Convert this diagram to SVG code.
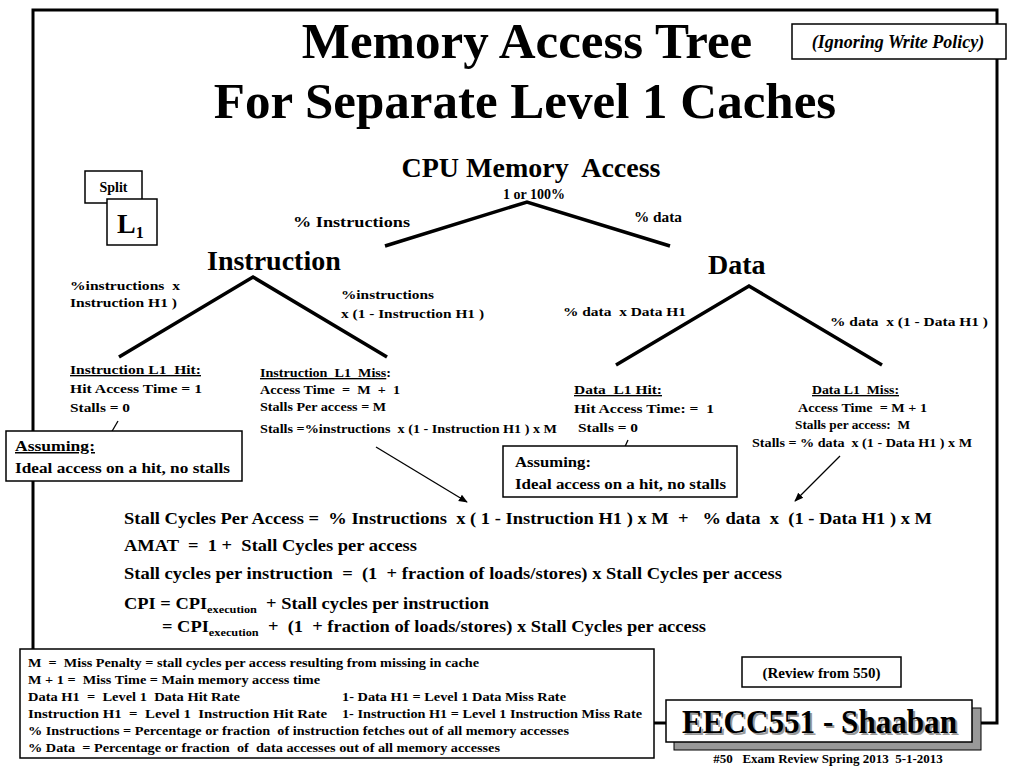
<svg xmlns="http://www.w3.org/2000/svg" width="1024" height="768" viewBox="0 0 1024 768">
<style>
  text { font-family: "Liberation Serif", "Times New Roman", serif; font-weight: bold; fill: #000; white-space: pre; }
  .box { fill: #fff; stroke: #000; stroke-width: 1.5; }
  .branch { stroke: #000; stroke-width: 3.5; fill: none; stroke-linecap: butt; }
  .thin { stroke: #000; stroke-width: 1.3; fill: none; }
  .frame { stroke: #000; stroke-width: 3; fill: none; }
  .u { text-decoration: underline; }
  .s13 { font-size: 13.5px; }
  .s15 { font-size: 15px; }
</style>
<defs>
  <marker id="arr" viewBox="0 0 10 10" refX="9" refY="5" markerWidth="9" markerHeight="9" orient="auto" markerUnits="userSpaceOnUse">
    <path d="M0,1 L10,5 L0,9 z" fill="#000"/>
  </marker>
</defs>
<rect width="1024" height="768" fill="#fff"/>

<g id="frame">
  <path class="frame" d="M33,650 V10 H997 V723 H981"/>
  <path class="frame" d="M653,723 H667"/>
</g>

<g id="title">
  <text x="527" y="58" font-size="51" text-anchor="middle">Memory Access Tree</text>
  <text x="525" y="118" font-size="51" text-anchor="middle">For Separate Level 1 Caches</text>
</g>

<g id="ignoring-write-policy">
  <rect class="box" x="792" y="24" width="214" height="35"/>
  <text x="898" y="48" font-size="18" font-style="italic" text-anchor="middle">(Ignoring Write Policy)</text>
</g>

<g id="split-l1">
  <rect class="box" x="85" y="171" width="57" height="32"/>
  <text x="113.5" y="192" font-size="14" text-anchor="middle">Split</text>
  <rect class="box" x="107" y="199" width="50" height="46"/>
  <text x="117" y="233" font-size="28">L<tspan font-size="16" dy="5">1</tspan></text>
</g>

<g id="connectors">
  <path class="branch" d="M385,246 L527,202 L670,246"/>
  <path class="branch" d="M119,357 L253,277 L387,357"/>
  <path class="branch" d="M616,365 L749,286 L882,365"/>
  <path class="thin" d="M118,421 L111,433"/>
  <path class="thin" d="M628,440 L623,451"/>
  <path class="thin" d="M376,447 L467,502" marker-end="url(#arr)"/>
  <path class="thin" d="M840,456 L795,501" marker-end="url(#arr)"/>
</g>

<g id="cpu-memory-access">
  <text x="531" y="177" font-size="28" text-anchor="middle">CPU Memory  Access</text>
  <text x="534" y="199" font-size="14" text-anchor="middle">1 or 100%</text>
  <text x="293" y="227" class="s15" textLength="117" lengthAdjust="spacingAndGlyphs">% Instructions</text>
  <text x="634" y="222" font-size="14" textLength="48" lengthAdjust="spacingAndGlyphs">% data</text>
</g>

<g id="instruction">
  <text x="207" y="270" font-size="28">Instruction</text>
  <text x="70" y="290" class="s13" textLength="110" lengthAdjust="spacingAndGlyphs">%instructions  x</text>
  <text x="70" y="307" class="s13" textLength="107" lengthAdjust="spacingAndGlyphs">Instruction H1 )</text>
  <text x="341" y="299" class="s13" textLength="93" lengthAdjust="spacingAndGlyphs">%instructions</text>
  <text x="341" y="318" class="s13" textLength="143" lengthAdjust="spacingAndGlyphs">x (1 - Instruction H1 )</text>
</g>

<g id="instruction-l1-hit">
  <text x="70" y="374" class="s13 u" textLength="131" lengthAdjust="spacingAndGlyphs">Instruction L1  Hit:</text>
  <text x="70" y="393" class="s13" textLength="132" lengthAdjust="spacingAndGlyphs">Hit Access Time = 1</text>
  <text x="70" y="412" class="s13" textLength="60" lengthAdjust="spacingAndGlyphs">Stalls = 0</text>
</g>

<g id="assuming-1">
  <rect class="box" x="6" y="431" width="236" height="50"/>
  <text x="15" y="451" class="s15 u" textLength="80" lengthAdjust="spacingAndGlyphs">Assuming:</text>
  <text x="15" y="473" class="s15" textLength="215" lengthAdjust="spacingAndGlyphs">Ideal access on a hit, no stalls</text>
</g>

<g id="instruction-l1-miss">
  <text x="260" y="377" class="s13" textLength="131" lengthAdjust="spacingAndGlyphs"><tspan class="u">Instruction  L1  Miss</tspan>:</text>
  <text x="260" y="394" class="s13" textLength="140" lengthAdjust="spacingAndGlyphs">Access Time  =  M  +  1</text>
  <text x="260" y="411" class="s13" textLength="126" lengthAdjust="spacingAndGlyphs">Stalls Per access = M</text>
  <text x="260" y="433" class="s13" textLength="297" lengthAdjust="spacingAndGlyphs">Stalls =%instructions  x (1 - Instruction H1 ) x M</text>
</g>

<g id="data">
  <text x="708" y="274" font-size="28">Data</text>
  <text x="563" y="316" class="s13" textLength="123" lengthAdjust="spacingAndGlyphs">% data  x Data H1</text>
  <text x="830" y="326" class="s13" textLength="158" lengthAdjust="spacingAndGlyphs">% data  x (1 - Data H1 )</text>
</g>

<g id="data-l1-hit">
  <text x="574" y="394" class="s13 u" textLength="88" lengthAdjust="spacingAndGlyphs">Data  L1 Hit:</text>
  <text x="574" y="413" class="s13" textLength="140" lengthAdjust="spacingAndGlyphs">Hit Access Time: =  1</text>
  <text x="578" y="432" class="s13" textLength="60" lengthAdjust="spacingAndGlyphs">Stalls = 0</text>
</g>

<g id="assuming-2">
  <rect class="box" x="503" y="446" width="234" height="51"/>
  <text x="515" y="467" class="s15" textLength="76" lengthAdjust="spacingAndGlyphs">Assuming:</text>
  <text x="515" y="489" class="s15" textLength="211" lengthAdjust="spacingAndGlyphs">Ideal access on a hit, no stalls</text>
</g>

<g id="data-l1-miss">
  <text x="812" y="394" class="s13 u" textLength="87" lengthAdjust="spacingAndGlyphs">Data L1  Miss:</text>
  <text x="798" y="412" class="s13" textLength="129" lengthAdjust="spacingAndGlyphs">Access Time  = M + 1</text>
  <text x="795" y="429" class="s13" textLength="115" lengthAdjust="spacingAndGlyphs">Stalls per access:  M</text>
  <text x="752" y="447" class="s13" textLength="220" lengthAdjust="spacingAndGlyphs">Stalls = % data  x (1 - Data H1 ) x M</text>
</g>

<g id="formulas">
  <text x="124" y="524" font-size="16.5" textLength="808" lengthAdjust="spacingAndGlyphs">Stall Cycles Per Access =  % Instructions  x ( 1 - Instruction H1 ) x M  +   % data  x  (1 - Data H1 ) x M</text>
  <text x="124" y="551" font-size="16.5" textLength="293" lengthAdjust="spacingAndGlyphs">AMAT  =  1 +  Stall Cycles per access</text>
  <text x="124" y="579" font-size="16.5" textLength="658" lengthAdjust="spacingAndGlyphs">Stall cycles per instruction  =  (1  + fraction of loads/stores) x Stall Cycles per access</text>
  <text x="124" y="609" font-size="16.5" textLength="365" lengthAdjust="spacingAndGlyphs">CPI = CPI<tspan font-size="11" dy="4">execution</tspan><tspan dy="-4">  + Stall cycles per instruction</tspan></text>
  <text x="162" y="632" font-size="16.5" textLength="544" lengthAdjust="spacingAndGlyphs">= CPI<tspan font-size="11" dy="4">execution</tspan><tspan dy="-4">  +  (1  + fraction of loads/stores) x Stall Cycles per access</tspan></text>
</g>

<g id="legend">
  <rect class="box" x="20" y="649" width="634" height="109"/>
  <text x="28" y="667" font-size="13" textLength="451" lengthAdjust="spacingAndGlyphs">M  =  Miss Penalty = stall cycles per access resulting from missing in cache</text>
  <text x="28" y="684" font-size="13" textLength="292" lengthAdjust="spacingAndGlyphs">M + 1 =  Miss Time = Main memory access time</text>
  <text x="28" y="701" font-size="13" textLength="212" lengthAdjust="spacingAndGlyphs">Data H1  =  Level 1  Data Hit Rate</text>
  <text x="342" y="701" font-size="13" textLength="224" lengthAdjust="spacingAndGlyphs">1- Data H1 = Level 1 Data Miss Rate</text>
  <text x="28" y="718" font-size="13" textLength="299" lengthAdjust="spacingAndGlyphs">Instruction H1  =  Level 1  Instruction Hit Rate</text>
  <text x="342" y="718" font-size="13" textLength="300" lengthAdjust="spacingAndGlyphs">1- Instruction H1 = Level 1 Instruction Miss Rate</text>
  <text x="28" y="735" font-size="13" textLength="541" lengthAdjust="spacingAndGlyphs">% Instructions = Percentage or fraction  of instruction fetches out of all memory accesses</text>
  <text x="28" y="752" font-size="13" textLength="472" lengthAdjust="spacingAndGlyphs">% Data  = Percentage or fraction  of  data accesses out of all memory accesses</text>
</g>

<g id="review-from-550">
  <rect class="box" x="742" y="657" width="159" height="30"/>
  <text x="821.5" y="678" font-size="15" text-anchor="middle">(Review from 550)</text>
</g>

<g id="eecc551">
  <rect x="674" y="708" width="307" height="42" fill="#999" stroke="#000" stroke-width="1"/>
  <rect class="box" x="666" y="700" width="306" height="42"/>
  <text x="684" y="735" font-size="33" textLength="275" lengthAdjust="spacingAndGlyphs" style="fill:#999">EECC551 - Shaaban</text>
  <text x="682" y="733" font-size="33" textLength="275" lengthAdjust="spacingAndGlyphs">EECC551 - Shaaban</text>
  <text x="828" y="763" font-size="13" text-anchor="middle">#50   Exam Review Spring 2013  5-1-2013</text>
</g>
</svg>
